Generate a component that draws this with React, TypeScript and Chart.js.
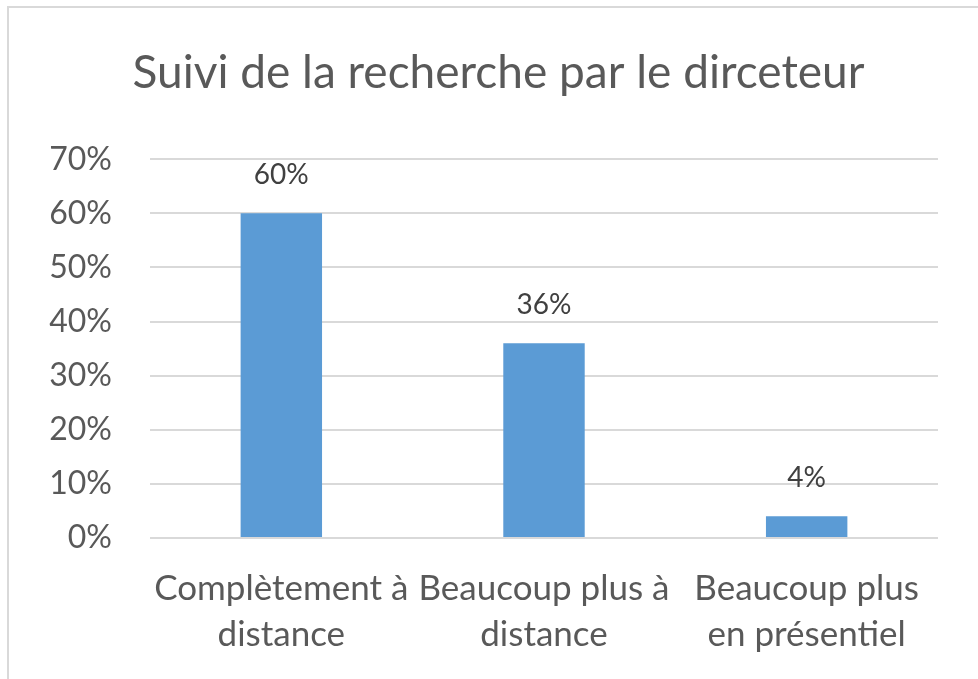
import React, { useEffect, useRef } from "react";
import { Chart, registerables } from "chart.js";

Chart.register(...registerables);

const TITLE = "Suivi de la recherche par le dirceteur";
const categories: string[][] = [
  ["Complètement à", "distance"],
  ["Beaucoup plus à", "distance"],
  ["Beaucoup plus", "en présentiel"],
];
const values: number[] = [0.6, 0.36, 0.04];
const yMin = 0;
const yMax = 0.7;
const yStep = 0.1;

const FONT = "Lato, 'Open Sans', sans-serif";

const dataLabelPlugin = {
  id: "dataLabels",
  afterDatasetsDraw(chart: any) {
    const ctx = chart.ctx;
    const meta = chart.getDatasetMeta(0);
    ctx.save();
    ctx.fillStyle = "#404040";
    ctx.font = `28px ${FONT}`;
    ctx.textAlign = "center";
    ctx.textBaseline = "middle";
    meta.data.forEach((bar: any, i: number) => {
      const v = chart.data.datasets[0].data[i] as number;
      ctx.fillText(`${Math.round(v * 100)}%`, bar.x, bar.y - 38);
    });
    ctx.restore();
  },
};

export default function App() {
  const ref = useRef<HTMLCanvasElement | null>(null);
  useEffect(() => {
    if (!ref.current) return;
    const chart = new Chart(ref.current, {
      type: "bar",
      data: {
        labels: categories,
        datasets: [
          {
            data: values,
            backgroundColor: "#5B9BD5",
            barPercentage: 0.31,
            categoryPercentage: 1,
          },
        ],
      },
      options: {
        animation: false,
        responsive: false,
        maintainAspectRatio: false,
        layout: { padding: 0 },
        plugins: {
          legend: { display: false },
          tooltip: { enabled: false },
          title: {
            display: true,
            text: TITLE,
            color: "#595959",
            font: { family: FONT, size: 46, weight: "normal" },
            padding: { top: 38, bottom: 58 },
          },
        },
        scales: {
          x: {
            grid: { display: false, drawTicks: false },
            border: { display: false },
            ticks: {
              color: "#595959",
              font: { family: FONT, size: 35, lineHeight: 1.3 },
              padding: 28,
              maxRotation: 0,
              autoSkip: false,
            },
            afterFit(scale: any) {
              scale.height = 141;
            },
          },
          y: {
            min: yMin,
            max: yMax,
            grid: { color: "#d9d9d9", lineWidth: 2, drawTicks: false },
            border: { display: false },
            ticks: {
              stepSize: yStep,
              color: "#595959",
              font: { family: FONT, size: 32 },
              padding: 38,
              callback: (v: any) => `${Math.round(Number(v) * 100)}%`,
            },
            afterFit(scale: any) {
              scale.width = 141;
            },
          },
          spacer: {
            type: "linear",
            position: "right",
            display: true,
            grid: { display: false, drawTicks: false },
            border: { display: false },
            ticks: { display: false },
            afterFit(scale: any) {
              scale.width = 50;
            },
          },
        },
      },
      plugins: [dataLabelPlugin],
    });
    return () => chart.destroy();
  }, []);

  return (
    <div
      style={{
        position: "absolute",
        left: 7,
        top: 6,
        width: 971,
        height: 673,
        boxSizing: "border-box",
        borderLeft: "2px solid #d9d9d9",
        borderTop: "2px solid #d9d9d9",
        background: "#fff",
        overflow: "hidden",
      }}
    >
      <canvas ref={ref} width={979} height={671} style={{ display: "block" }} />
    </div>
  );
}
